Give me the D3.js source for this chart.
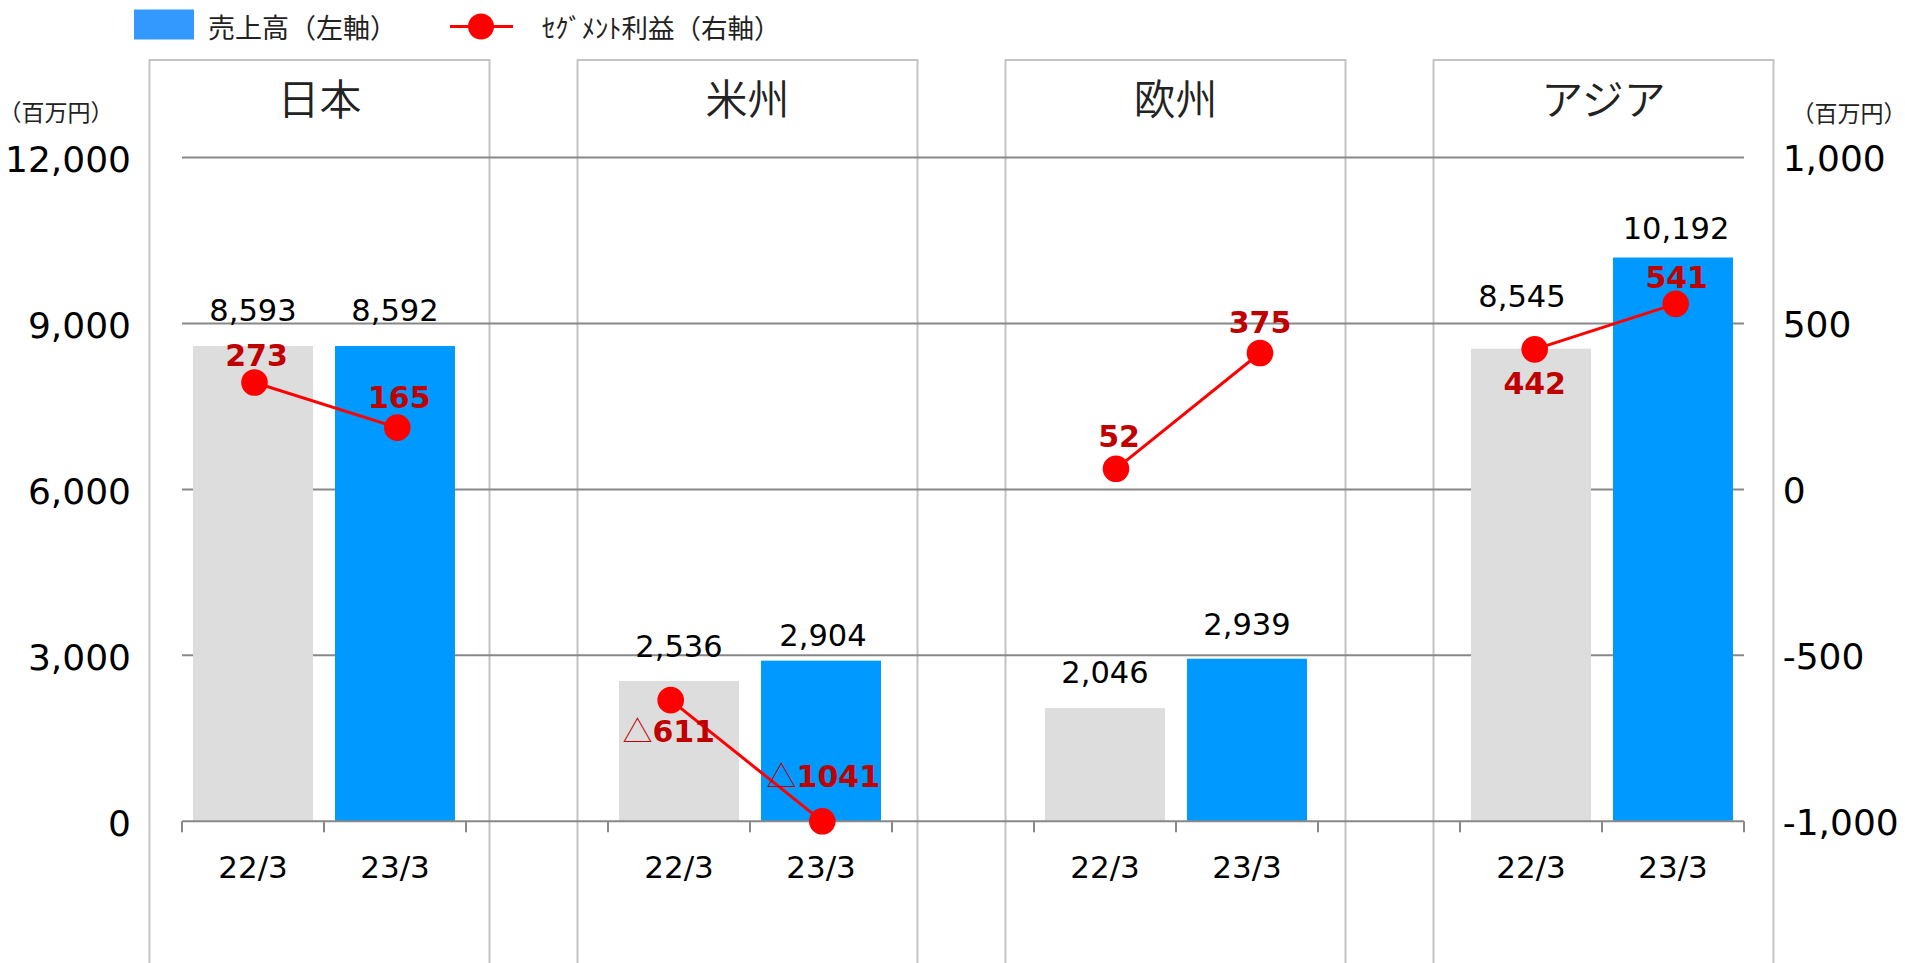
<!DOCTYPE html>
<html>
<head>
<meta charset="utf-8">
<script src="https://cdn.jsdelivr.net/npm/d3@7"></script>
<style>
html,body{margin:0;padding:0;background:#fff;overflow:hidden}
svg{display:block}
</style>
</head>
<body>
<svg id="chart" width="1905" height="963"></svg>
<script>
// ---------------- data ----------------
const regions = ["日本", "米州", "欧州", "アジア"];
const periods = ["22/3", "23/3"];
const salesPrev = [8593, 2536, 2046, 8545];      // 売上高 22/3 (百万円)
const salesCurr = [8592, 2904, 2939, 10192];     // 売上高 23/3
const profitPrev = [273, -611, 52, 442];         // セグメント利益 22/3 (labels)
const profitCurr = [165, -1041, 375, 541];       // セグメント利益 23/3 (labels)
const profitMarkPrev = [322, -635, 62, 422];     // marker level as drawn (right axis)
const profitMarkCurr = [186, -1004, 411, 559];
const leftTicks = [0, 3000, 6000, 9000, 12000];
const rightTicks = [-1000, -500, 0, 500, 1000];
const legendLabels = ["売上高（左軸）", "ｾｸﾞﾒﾝﾄ利益（右軸）"];
const unitLabel = "（百万円）";

// ---------------- layout nudges (not data) ----------------
const barLabelDy = [-24.6, -24.6, -24.3, -14.3, -25, -24, -41.3, -18.7];
const barLabelDx = [0, 0, 0, 2, 0, 0, -9, 3];
const markerDx = [1.5, 2.3, -8.3, 1.3, 11, 13, 3.7, 2.7];
const profitLabelDy = [-16.7, -19.4, 41.7, -34.7, -22.3, -19.7, 45, -15.7];
const profitLabelDx = [2, 2, -2, 1, 3, 0, 0, 1];

// ---------------- setup ----------------
const W = 1905, H = 963;
const plotLeft = 182, plotRight = 1744, yBase = 821.3, yTop = 157.5;
const numFont = "'DejaVu Sans', Verdana, sans-serif";
const cjkFont = "'Noto Sans CJK JP', 'Noto Sans', sans-serif";

const svg = d3.select("#chart");

const x0 = d3.scaleBand().domain(regions).range([plotLeft, plotRight]).paddingInner(1/3).paddingOuter(0);
const x1 = d3.scaleBand().domain(periods).range([0, x0.bandwidth()]).paddingInner(0.155).paddingOuter(0.0775);
const yL = d3.scaleLinear().domain([0, 12000]).range([yBase, yTop]);
const yR = d3.scaleLinear().domain([-1000, 1000]).range([yBase, yTop]).clamp(true);
const xP = d3.scaleBand().domain(regions).range([149.5, 1773.5]).paddingInner(88/428);
const color = d3.scaleOrdinal().domain(periods).range(["#dddddd", "#0099ff"]);

const rows = [];
regions.forEach((r, i) => {
  periods.forEach((p, j) => {
    rows.push({
      region: r, period: p, k: i * 2 + j,
      sales: (j ? salesCurr : salesPrev)[i],
      profit: (j ? profitCurr : profitPrev)[i],
      mark: (j ? profitMarkCurr : profitMarkPrev)[i]
    });
  });
});
const cx = d => x0(d.region) + x1(d.period) + x1.bandwidth() / 2;

// ---------------- panels ----------------
const panels = svg.append("g");
panels.selectAll("rect").data(regions).join("rect")
  .attr("x", d => xP(d)).attr("y", 60)
  .attr("width", xP.bandwidth()).attr("height", H)
  .attr("fill", "none").attr("stroke", "#c3c3c3").attr("stroke-width", 2);
panels.selectAll("text").data(regions).join("text")
  .attr("x", d => xP(d) + xP.bandwidth() / 2).attr("y", 96)
  .attr("text-anchor", "middle").attr("dominant-baseline", "central")
  .attr("font-family", cjkFont).attr("font-size", 42).attr("font-weight", 350)
  .attr("fill", "#222").text(d => d);

// ---------------- gridlines ----------------
svg.append("g").selectAll("line").data(leftTicks.filter(t => t > 0)).join("line")
  .attr("x1", plotLeft).attr("x2", plotRight)
  .attr("y1", d => yL(d)).attr("y2", d => yL(d))
  .attr("stroke", "#888").attr("stroke-width", 2);

// ---------------- axes ----------------
const fmt = d => (d < 0 ? "-" : "") + d3.format(",")(Math.abs(d));
const gl = svg.append("g").attr("transform", `translate(${plotLeft},0)`)
  .call(d3.axisLeft(yL).tickValues(leftTicks).tickSize(0).tickPadding(51).tickFormat(fmt));
gl.select(".domain").remove();
gl.selectAll("text").attr("font-family", numFont).attr("font-size", 36).attr("fill", "#000").attr("dy", "0.4em");

const gr = svg.append("g").attr("transform", `translate(${plotRight},0)`)
  .call(d3.axisRight(yR).tickValues(rightTicks).tickSize(0).tickPadding(38.7).tickFormat(fmt));
gr.select(".domain").remove();
gr.selectAll("text").attr("font-family", numFont).attr("font-size", 36).attr("fill", "#000").attr("dy", "0.37em");

svg.append("text").attr("x", 56).attr("y", 111).attr("text-anchor", "middle")
  .attr("dominant-baseline", "central").attr("font-family", cjkFont).attr("font-size", 23)
  .attr("fill", "#222").text(unitLabel);
svg.append("text").attr("x", 1849).attr("y", 112).attr("text-anchor", "middle")
  .attr("dominant-baseline", "central").attr("font-family", cjkFont).attr("font-size", 23)
  .attr("fill", "#222").text(unitLabel);

// ---------------- bars ----------------
svg.append("g").selectAll("rect").data(rows).join("rect")
  .attr("x", d => x0(d.region) + x1(d.period))
  .attr("y", d => yL(d.sales))
  .attr("width", x1.bandwidth())
  .attr("height", d => yL(0) - yL(d.sales))
  .attr("fill", d => color(d.period));

svg.append("g").selectAll("text").data(rows).join("text")
  .attr("x", d => cx(d) + barLabelDx[d.k])
  .attr("y", d => yL(d.sales) + barLabelDy[d.k])
  .attr("text-anchor", "middle")
  .attr("font-family", numFont).attr("font-size", 30.5).attr("fill", "#000")
  .text(d => d3.format(",")(d.sales));

// ---------------- x axes per region ----------------
svg.append("line").attr("x1", plotLeft).attr("x2", plotRight)
  .attr("y1", yL(0)).attr("y2", yL(0)).attr("stroke", "#888").attr("stroke-width", 2);
regions.forEach(r => {
  const g = svg.append("g").attr("transform", `translate(${x0(r)},${yL(0)})`);
  const ax = g.call(d3.axisBottom(x1).tickSize(0).tickPadding(34.7));
  ax.select(".domain").remove();
  ax.selectAll("text").attr("font-family", numFont).attr("font-size", 31).attr("fill", "#000");
  g.selectAll("line.bt").data(d3.range(periods.length + 1)).join("line").attr("class", "bt")
    .attr("x1", k => k * x1.step()).attr("x2", k => k * x1.step())
    .attr("y1", 0).attr("y2", 11).attr("stroke", "#888").attr("stroke-width", 2);
});

// ---------------- profit lines ----------------
const line = d3.line().x(d => cx(d) + markerDx[d.k]).y(d => yR(d.mark));
const lg = svg.append("g");
regions.forEach(r => {
  lg.append("path").datum(rows.filter(d => d.region === r))
    .attr("d", line).attr("fill", "none").attr("stroke", "#ff0000").attr("stroke-width", 3);
});
lg.selectAll("circle").data(rows).join("circle")
  .attr("cx", d => cx(d) + markerDx[d.k]).attr("cy", d => yR(d.mark))
  .attr("r", 13.3).attr("fill", "#ff0000");

const pl = svg.append("g").selectAll("text").data(rows).join("text")
  .attr("x", d => cx(d) + markerDx[d.k] + profitLabelDx[d.k])
  .attr("y", d => yR(d.mark) + profitLabelDy[d.k])
  .attr("text-anchor", "middle")
  .attr("font-family", numFont).attr("font-size", 30).attr("font-weight", "bold")
  .attr("fill", "#c00000");
pl.each(function(d) {
  const t = d3.select(this);
  if (d.profit < 0) {
    t.append("tspan").attr("font-family", cjkFont).attr("font-weight", 300).text("△");
  }
  t.append("tspan").text(Math.abs(d.profit));
});

// ---------------- legend ----------------
const leg = svg.append("g");
leg.append("rect").attr("x", 134).attr("y", 9.5).attr("width", 60).attr("height", 30).attr("fill", "#3399ff");
leg.append("text").attr("x", 208).attr("y", 26).attr("dominant-baseline", "central")
  .attr("font-family", cjkFont).attr("font-size", 27).attr("fill", "#222").text(legendLabels[0]);
leg.append("line").attr("x1", 450).attr("x2", 513).attr("y1", 26.5).attr("y2", 26.5)
  .attr("stroke", "#ff0000").attr("stroke-width", 3);
leg.append("circle").attr("cx", 481).attr("cy", 26.5).attr("r", 13).attr("fill", "#ff0000");
leg.append("text").attr("x", 542).attr("y", 26).attr("dominant-baseline", "central")
  .attr("font-family", cjkFont).attr("font-size", 26.5).attr("fill", "#222").text(legendLabels[1]);
</script>
</body>
</html>
